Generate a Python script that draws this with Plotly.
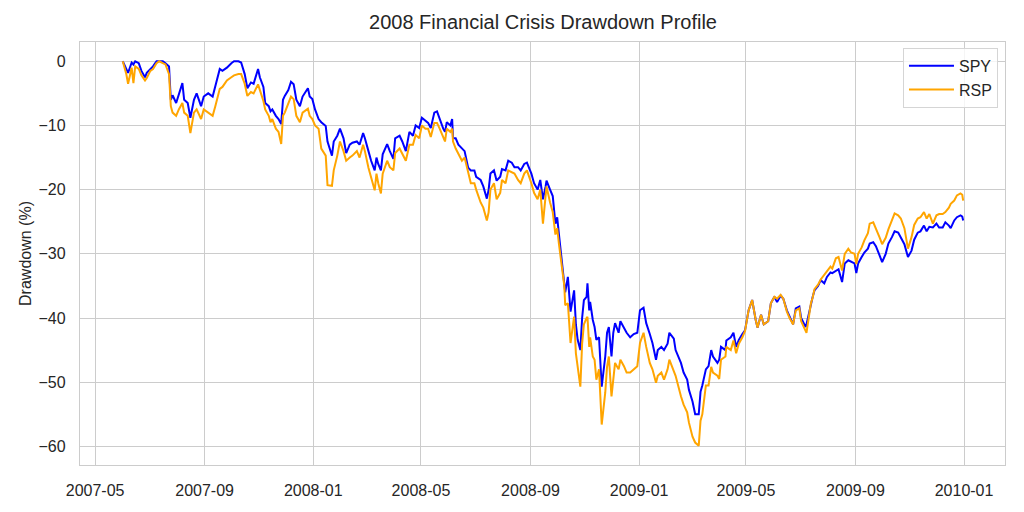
import plotly.graph_objects as go

dates = [
    "2007-06-01", "2007-06-05", "2007-06-07", "2007-06-11", "2007-06-13", "2007-06-15", "2007-06-19", "2007-06-22",
    "2007-06-26", "2007-06-28", "2007-07-02", "2007-07-05", "2007-07-09", "2007-07-12", "2007-07-16", "2007-07-19",
    "2007-07-23", "2007-07-25", "2007-07-27", "2007-07-31", "2007-08-03", "2007-08-07", "2007-08-09", "2007-08-13",
    "2007-08-16", "2007-08-20", "2007-08-23", "2007-08-28", "2007-08-31", "2007-09-05", "2007-09-10", "2007-09-13",
    "2007-09-18", "2007-09-21", "2007-09-26", "2007-10-01", "2007-10-04", "2007-10-09", "2007-10-12", "2007-10-16",
    "2007-10-19", "2007-10-23", "2007-10-26", "2007-10-31", "2007-11-02", "2007-11-06", "2007-11-08", "2007-11-12",
    "2007-11-14", "2007-11-16", "2007-11-20", "2007-11-23", "2007-11-26", "2007-11-28", "2007-11-30", "2007-12-04",
    "2007-12-07", "2007-12-10", "2007-12-13", "2007-12-17", "2007-12-20", "2007-12-26", "2007-12-28", "2007-12-31",
    "2008-01-03", "2008-01-07", "2008-01-10", "2008-01-15", "2008-01-17", "2008-01-22", "2008-01-24", "2008-01-28",
    "2008-01-31", "2008-02-04", "2008-02-07", "2008-02-11", "2008-02-14", "2008-02-19", "2008-02-22", "2008-02-26",
    "2008-02-28", "2008-03-03", "2008-03-06", "2008-03-10", "2008-03-12", "2008-03-14", "2008-03-17", "2008-03-19",
    "2008-03-24", "2008-03-27", "2008-03-31", "2008-04-02", "2008-04-07", "2008-04-10", "2008-04-14", "2008-04-18",
    "2008-04-22", "2008-04-25", "2008-04-29", "2008-05-02", "2008-05-06", "2008-05-09", "2008-05-12", "2008-05-16",
    "2008-05-19", "2008-05-22", "2008-05-26", "2008-05-28", "2008-05-30", "2008-06-03", "2008-06-05", "2008-06-06",
    "2008-06-09", "2008-06-12", "2008-06-16", "2008-06-19", "2008-06-23", "2008-06-26", "2008-06-30", "2008-07-02",
    "2008-07-07", "2008-07-10", "2008-07-14", "2008-07-16", "2008-07-18", "2008-07-22", "2008-07-25", "2008-07-29",
    "2008-07-31", "2008-08-04", "2008-08-07", "2008-08-11", "2008-08-14", "2008-08-18", "2008-08-21", "2008-08-25",
    "2008-08-28", "2008-09-02", "2008-09-05", "2008-09-09", "2008-09-12", "2008-09-15", "2008-09-18", "2008-09-19",
    "2008-09-23", "2008-09-26", "2008-09-29", "2008-10-01", "2008-10-03", "2008-10-06", "2008-10-09", "2008-10-10",
    "2008-10-13", "2008-10-16", "2008-10-20", "2008-10-22", "2008-10-24", "2008-10-27", "2008-10-29", "2008-10-31",
    "2008-11-03", "2008-11-04", "2008-11-06", "2008-11-07", "2008-11-10", "2008-11-12", "2008-11-14", "2008-11-17",
    "2008-11-20", "2008-11-24", "2008-11-26", "2008-11-28", "2008-12-01", "2008-12-03", "2008-12-05", "2008-12-09",
    "2008-12-11", "2008-12-15", "2008-12-18", "2008-12-22", "2008-12-26", "2008-12-30", "2009-01-02", "2009-01-06",
    "2009-01-09", "2009-01-13", "2009-01-16", "2009-01-20", "2009-01-22", "2009-01-26", "2009-01-29", "2009-02-02",
    "2009-02-04", "2009-02-09", "2009-02-11", "2009-02-17", "2009-02-20", "2009-02-24", "2009-02-26", "2009-03-02",
    "2009-03-05", "2009-03-09", "2009-03-11", "2009-03-13", "2009-03-17", "2009-03-20", "2009-03-23", "2009-03-25",
    "2009-03-30", "2009-04-01", "2009-04-03", "2009-04-08", "2009-04-09", "2009-04-14", "2009-04-17", "2009-04-20",
    "2009-04-23", "2009-04-27", "2009-04-30", "2009-05-04", "2009-05-08", "2009-05-12", "2009-05-14", "2009-05-18",
    "2009-05-21", "2009-05-26", "2009-05-29", "2009-06-02", "2009-06-05", "2009-06-09", "2009-06-12", "2009-06-16",
    "2009-06-19", "2009-06-23", "2009-06-26", "2009-06-30", "2009-07-02", "2009-07-07", "2009-07-08", "2009-07-13",
    "2009-07-15", "2009-07-17", "2009-07-21", "2009-07-24", "2009-07-28", "2009-07-31", "2009-08-04", "2009-08-06",
    "2009-08-10", "2009-08-13", "2009-08-17", "2009-08-20", "2009-08-24", "2009-08-27", "2009-08-31", "2009-09-02",
    "2009-09-04", "2009-09-08", "2009-09-11", "2009-09-15", "2009-09-17", "2009-09-21", "2009-09-24", "2009-09-28",
    "2009-10-01", "2009-10-05", "2009-10-08", "2009-10-12", "2009-10-15", "2009-10-19", "2009-10-22", "2009-10-26",
    "2009-10-28", "2009-10-30", "2009-11-03", "2009-11-06", "2009-11-10", "2009-11-13", "2009-11-17", "2009-11-20",
    "2009-11-23", "2009-11-27", "2009-12-01", "2009-12-04", "2009-12-08", "2009-12-11", "2009-12-15", "2009-12-17",
    "2009-12-21", "2009-12-24", "2009-12-28", "2009-12-30", "2009-12-31",
]

spy = [
    0.0, -1.2, -1.8, -0.2, -0.5, 0.0, -0.3, -1.5,
    -2.5, -1.8, -1.2, -0.8, 0.0, 0.0, 0.0, -0.3,
    -0.8, -6.0, -5.3, -6.5, -5.0, -3.4, -6.0, -6.5,
    -8.8, -6.0, -5.0, -7.0, -5.5, -5.0, -5.5, -4.0,
    -1.2, -1.5, -1.0, -0.3, 0.0, 0.0, -0.2, -2.0,
    -4.2, -3.3, -3.5, -1.2, -2.5, -4.0, -6.5, -7.0,
    -7.8, -7.5, -8.5, -9.0, -9.8, -6.0, -5.4, -4.5,
    -3.2, -3.6, -6.0, -7.0, -5.5, -4.2, -5.5, -5.9,
    -7.5, -9.0, -9.5, -10.1, -12.5, -14.7, -12.5, -11.6,
    -10.5, -12.0, -14.3, -13.0, -12.7, -12.5, -13.0, -11.2,
    -12.0, -14.0, -15.5, -17.0, -15.0, -16.0, -17.0, -14.5,
    -12.9, -14.0, -15.2, -12.0, -11.6, -12.5, -14.0, -11.0,
    -11.6, -10.0, -10.4, -8.8, -9.2, -9.6, -10.4, -8.0,
    -7.8, -9.0, -10.5, -11.0, -9.5, -10.0, -9.0, -12.0,
    -12.0, -13.0, -13.5, -14.0, -16.6, -17.0, -17.0, -18.0,
    -18.5, -19.5, -21.4, -20.0, -17.5, -17.0, -18.6, -18.0,
    -16.8, -17.0, -15.5, -15.8, -16.5, -16.5, -17.0, -16.0,
    -15.8, -17.5, -19.0, -20.0, -18.5, -21.5, -19.5, -18.6,
    -20.0, -21.0, -25.3, -24.3, -27.0, -30.5, -34.0, -36.0,
    -33.6, -39.0, -35.7, -41.0, -43.4, -45.0, -40.0, -37.2,
    -36.7, -34.6, -38.8, -37.5, -40.3, -41.4, -43.4, -43.0,
    -50.7, -46.0, -42.3, -41.4, -46.0, -42.3, -40.8, -42.3,
    -40.5, -41.5, -42.3, -43.0, -42.5, -42.3, -38.8, -38.4,
    -40.8, -42.5, -43.9, -46.5, -45.0, -44.5, -45.0, -44.0,
    -42.3, -43.2, -45.0, -47.0, -48.5, -49.6, -51.2, -53.0,
    -55.0, -55.0, -51.5, -50.5, -48.0, -47.5, -45.0, -46.0,
    -47.0, -46.5, -44.5, -45.0, -43.5, -43.0, -42.3, -44.5,
    -43.4, -42.5, -41.9, -38.8, -37.2, -40.3, -41.5, -39.5,
    -41.0, -40.5, -37.7, -36.7, -37.5, -36.5, -37.0, -38.8,
    -39.8, -41.0, -38.5, -38.2, -40.0, -41.4, -41.0, -37.7,
    -36.7, -35.7, -35.0, -34.1, -34.6, -33.6, -32.9, -33.0,
    -32.6, -32.4, -34.4, -31.5, -31.0, -31.2, -31.5, -33.0,
    -31.5, -30.5, -29.8, -29.2, -28.4, -28.2, -28.8, -30.2,
    -31.3, -30.0, -28.4, -27.4, -26.5, -26.7, -27.5, -28.5,
    -29.5, -30.5, -29.5, -27.8, -26.7, -26.5, -25.6, -26.5,
    -25.8, -25.9, -25.3, -25.9, -25.9, -25.1, -25.6, -26.0,
    -24.8, -24.3, -24.0, -24.2, -24.8,
]

rsp = [
    0.0, -2.0, -3.5, -1.0, -3.4, -0.8, -1.2, -2.2,
    -3.0, -2.6, -1.5, -1.2, -0.3, 0.0, -0.3, -0.5,
    -2.0, -7.0, -8.0, -8.5, -7.5, -6.5, -8.0, -8.5,
    -11.2, -8.0, -7.5, -9.0, -7.5, -8.0, -8.5, -7.0,
    -4.3, -4.0, -3.0, -2.5, -2.2, -2.0, -2.0, -3.5,
    -5.4, -4.8, -5.0, -3.6, -4.5, -6.2, -7.5, -8.5,
    -9.5, -9.0, -10.5, -11.0, -12.9, -8.5, -8.0, -6.5,
    -5.5, -5.9, -8.5, -9.5, -8.0, -7.4, -8.5, -9.0,
    -10.0, -10.5, -13.6, -14.7, -19.3, -19.4, -17.0, -14.7,
    -12.5, -14.0, -15.5, -15.0, -14.7, -14.0, -15.0, -13.0,
    -14.0, -16.6, -18.0, -20.1, -17.5, -19.0, -20.6, -17.5,
    -15.5, -16.5, -17.0, -14.3, -13.6, -14.5, -15.5, -13.0,
    -13.0, -11.5, -12.0, -10.0, -10.5, -10.5, -11.8, -9.6,
    -9.6, -10.5, -12.0, -12.5, -10.5, -11.0, -10.5, -12.5,
    -13.6, -14.5, -15.5, -15.0, -17.5, -19.0, -19.0, -20.0,
    -22.0, -22.8, -24.8, -23.5, -20.0, -19.0, -21.5, -20.5,
    -18.5, -19.0, -17.0, -17.3, -17.5, -18.5, -19.0, -17.5,
    -17.0, -19.0, -20.5, -21.5, -20.0, -25.3, -21.5, -19.5,
    -22.0, -23.5, -27.0, -26.0, -28.5, -31.5, -35.0, -38.0,
    -37.7, -43.9, -39.8, -45.5, -48.0, -50.7, -44.0, -41.0,
    -40.0, -39.8, -44.5, -43.0, -46.0, -46.5, -49.6, -48.0,
    -56.6, -51.6, -47.6, -46.0, -52.2, -49.0, -47.0, -48.0,
    -46.5, -47.5, -48.5, -48.5, -48.0, -47.5, -43.9, -42.3,
    -44.5, -47.0, -48.0, -50.1, -49.0, -48.5, -49.6, -48.0,
    -46.5, -48.5, -49.0, -52.2, -53.5, -54.7, -56.3, -58.5,
    -59.4, -59.9, -56.0, -55.0, -50.5, -50.5, -47.6, -48.5,
    -49.0, -49.5, -46.5, -46.0, -44.5, -45.0, -43.5, -45.5,
    -44.0, -43.0, -42.0, -38.8, -37.2, -40.3, -41.5, -39.5,
    -41.0, -40.5, -37.7, -36.7, -37.0, -36.4, -37.0, -39.0,
    -40.0, -41.0, -38.8, -38.5, -40.5, -42.0, -42.3, -37.7,
    -36.8, -35.5, -34.8, -34.0, -33.3, -32.6, -32.0, -32.3,
    -30.7, -30.5, -32.6, -30.0, -29.2, -29.8, -30.0, -31.6,
    -30.0, -29.0, -27.9, -26.8, -25.3, -25.1, -26.0, -27.4,
    -28.5, -27.5, -26.2, -24.8, -23.7, -24.0, -24.5, -26.0,
    -28.0, -29.2, -27.4, -25.5, -24.5, -24.3, -23.5, -24.5,
    -23.8, -25.3, -24.0, -23.8, -23.8, -23.5, -22.8, -22.2,
    -21.7, -20.9, -20.6, -20.8, -21.7,
]

tick_dates = ["2007-05-01", "2007-09-01", "2008-01-01", "2008-05-01", "2008-09-01",
              "2009-01-01", "2009-05-01", "2009-09-01", "2010-01-01"]
tick_labels = ["2007-05", "2007-09", "2008-01", "2008-05", "2008-09",
               "2009-01", "2009-05", "2009-09", "2010-01"]
y_ticks = [0, -10, -20, -30, -40, -50, -60]

FONT = "Liberation Sans, Arial, sans-serif"
TXT = "#262626"
GRID = "#cccccc"

fig = go.Figure()
fig.add_trace(go.Scatter(x=dates, y=spy, mode="lines", name="SPY",
                         line=dict(color="blue", width=2)))
fig.add_trace(go.Scatter(x=dates, y=rsp, mode="lines", name="RSP",
                         line=dict(color="orange", width=2)))

fig.update_layout(
    width=1016, height=504,
    margin=dict(l=72, r=19, t=34, b=47, autoexpand=False),
    paper_bgcolor="white", plot_bgcolor="white",
    font=dict(family=FONT, size=16, color=TXT),
    title=dict(text="2008 Financial Crisis Drawdown Profile", x=0.5266, xanchor="center",
               y=0.972, yanchor="middle", font=dict(size=20, color=TXT)),
    legend=dict(x=0.9924, y=0.986, xanchor="right", yanchor="top",
                bgcolor="rgba(255,255,255,0.8)", bordercolor="#d5d5d5", borderwidth=1,
                font=dict(size=16, color=TXT), tracegroupgap=0, itemwidth=45),
    showlegend=True,
)
fig.update_xaxes(
    type="date", range=["2007-04-14", "2010-02-16"], automargin=False,
    tickvals=tick_dates, ticktext=tick_labels,
    showgrid=True, gridcolor=GRID, gridwidth=1.3,
    showline=True, linecolor=GRID, linewidth=1.3, mirror=True,
    ticks="outside", ticklen=11, tickcolor="rgba(0,0,0,0)",
    zeroline=False,
)
fig.update_yaxes(
    range=[-62.9, 3.0], tickvals=y_ticks, automargin=False,
    showgrid=True, gridcolor=GRID, gridwidth=1.3,
    showline=True, linecolor=GRID, linewidth=1.3, mirror=True,
    ticks="outside", ticklen=10, tickcolor="rgba(0,0,0,0)",
    zeroline=False,
    title=dict(text="Drawdown (%)", font=dict(size=16, color=TXT), standoff=2),
)

fig.write_html("out.html")
